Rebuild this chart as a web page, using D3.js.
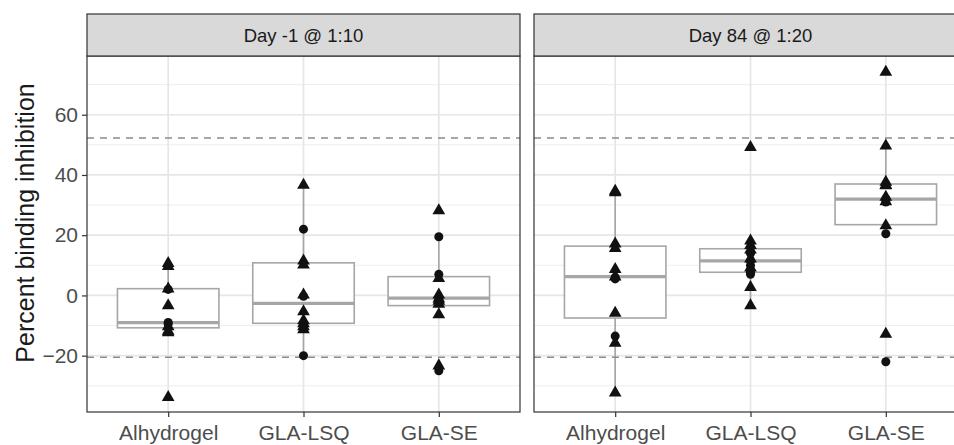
<!DOCTYPE html>
<html>
<head>
<meta charset="utf-8">
<script src="https://cdn.jsdelivr.net/npm/d3@7"></script>
<style>
  body { margin: 0; background: #fff; }
  svg { display: block; font-family: "Liberation Sans", Arial, sans-serif; }
</style>
</head>
<body>
<svg id="chart" width="954" height="445"></svg>
<script>
// categories and facets
const categories = ["Alhydrogel", "GLA-LSQ", "GLA-SE"];
const facets = ["Day -1 @ 1:10", "Day 84 @ 1:20"];

// values per category (triangles / circles), one array per facet
const day1Triangles = [
  [11, 10, 2.5, -3, -10, -11.5, -12, -33.5],
  [37, 11.8, 10.5, 0.5, -5, -8, -9, -10, -11],
  [28.5, 6, 0.5, -0.8, -1.5, -2.5, -6, -23]
];
const day1Circles = [
  [2, -9, -9.5],
  [22, -0.3, -20],
  [19.5, 7, -1, -25]
];
const day84Triangles = [
  [35, 34.5, 17.5, 16, 9, 6.5, -5.5, -15.5, -32],
  [49.5, 18.5, 17, 15.5, 12.5, 9.5, 3, -3],
  [74.5, 50, 38, 37, 36.8, 33, 31.5, 23.5, -12.5]
];
const day84Circles = [
  [6, 5.5, -13.5],
  [14, 11.5, 10, 7.7, 7],
  [32, 31, 20.5, -22]
];

const cutoffs = [52.3, -20.5];
const yMajor = [-20, 0, 20, 40, 60];
const yMinor = [-30, -10, 10, 30, 50, 70];

const svg = d3.select("#chart");
const panelTop = 56, panelBottom = 412, stripTop = 14;
const panelWidth = 433;
const panelLefts = [87, 534];

const y = d3.scaleLinear().domain([-38.7, 79.5]).range([panelBottom, panelTop]);

// boxplot stats like ggplot (type 7 quantiles, 1.5 IQR whiskers)
function boxStats(values) {
  const s = values.slice().sort(d3.ascending);
  const q1 = d3.quantileSorted(s, 0.25), med = d3.quantileSorted(s, 0.5), q3 = d3.quantileSorted(s, 0.75);
  const iqr = q3 - q1;
  const lo = d3.min(s.filter(v => v >= q1 - 1.5 * iqr));
  const hi = d3.max(s.filter(v => v <= q3 + 1.5 * iqr));
  return { q1, med, q3, lo, hi };
}

const panelData = [
  { tri: day1Triangles, circ: day1Circles },
  { tri: day84Triangles, circ: day84Circles }
];

facets.forEach((facet, fi) => {
  const left = panelLefts[fi];
  const x = d3.scalePoint().domain(categories).range([left, left + panelWidth]).padding(0.6);
  const step = x.step();
  const g = svg.append("g");

  // panel background
  g.append("rect")
    .attr("x", left).attr("y", panelTop)
    .attr("width", panelWidth).attr("height", panelBottom - panelTop)
    .attr("fill", "#fff");

  // minor grid
  g.selectAll(".minor").data(yMinor).join("line")
    .attr("x1", left).attr("x2", left + panelWidth)
    .attr("y1", d => y(d)).attr("y2", d => y(d))
    .attr("stroke", "#ebebeb").attr("stroke-width", 0.9);

  // major grid
  g.selectAll(".major").data(yMajor).join("line")
    .attr("x1", left).attr("x2", left + panelWidth)
    .attr("y1", d => y(d)).attr("y2", d => y(d))
    .attr("stroke", "#e6e6e6").attr("stroke-width", 1.7);
  g.selectAll(".vmajor").data(categories).join("line")
    .attr("x1", d => x(d)).attr("x2", d => x(d))
    .attr("y1", panelTop).attr("y2", panelBottom)
    .attr("stroke", "#e6e6e6").attr("stroke-width", 1.7);

  // boxplots
  categories.forEach((cat, ci) => {
    const vals = panelData[fi].tri[ci].concat(panelData[fi].circ[ci]);
    const st = boxStats(vals);
    const cx = x(cat), bw = step * 0.75;
    const col = "#a6a6a6";
    g.append("line").attr("x1", cx).attr("x2", cx)
      .attr("y1", y(st.q3)).attr("y2", y(st.hi))
      .attr("stroke", col).attr("stroke-width", 1.6);
    g.append("line").attr("x1", cx).attr("x2", cx)
      .attr("y1", y(st.q1)).attr("y2", y(st.lo))
      .attr("stroke", col).attr("stroke-width", 1.6);
    g.append("rect")
      .attr("x", cx - bw / 2).attr("y", y(st.q3))
      .attr("width", bw).attr("height", y(st.q1) - y(st.q3))
      .attr("fill", "#fff").attr("stroke", col).attr("stroke-width", 1.6);
    g.append("line")
      .attr("x1", cx - bw / 2).attr("x2", cx + bw / 2)
      .attr("y1", y(st.med)).attr("y2", y(st.med))
      .attr("stroke", col).attr("stroke-width", 3.2);
  });

  // cutoff lines
  g.selectAll(".cut").data(cutoffs).join("line")
    .attr("x1", left).attr("x2", left + panelWidth)
    .attr("y1", d => y(d)).attr("y2", d => y(d))
    .attr("stroke", "#8c8c8c").attr("stroke-width", 1.5)
    .attr("stroke-dasharray", "7,6");

  // points
  categories.forEach((cat, ci) => {
    g.selectAll(null).data(panelData[fi].circ[ci]).join("path")
      .attr("d", d3.symbol(d3.symbolCircle, 64))
      .attr("transform", d => `translate(${x(cat)},${y(d)})`)
      .attr("fill", "#111");
    g.selectAll(null).data(panelData[fi].tri[ci]).join("path")
      .attr("d", d3.symbol(d3.symbolTriangle, 70))
      .attr("transform", d => `translate(${x(cat)},${y(d) + 1})`)
      .attr("fill", "#111");
  });

  // panel border
  g.append("rect")
    .attr("x", left).attr("y", panelTop)
    .attr("width", panelWidth).attr("height", panelBottom - panelTop)
    .attr("fill", "none").attr("stroke", "#333").attr("stroke-width", 1.2);

  // strip
  g.append("rect")
    .attr("x", left).attr("y", stripTop)
    .attr("width", panelWidth).attr("height", panelTop - stripTop)
    .attr("fill", "#d9d9d9").attr("stroke", "#333").attr("stroke-width", 1.2);
  g.append("text")
    .attr("x", left + panelWidth / 2).attr("y", (stripTop + panelTop) / 2 + 6.5)
    .attr("text-anchor", "middle")
    .attr("font-size", 18.5).attr("fill", "#1a1a1a")
    .text(facet);

  // x axis
  const xAxis = g.append("g")
    .attr("transform", `translate(0,${panelBottom})`)
    .call(d3.axisBottom(x).tickSize(5).tickPadding(8));
  xAxis.select(".domain").remove();
  xAxis.selectAll("line").attr("stroke", "#333").attr("stroke-width", 1.2);
  xAxis.selectAll("text").attr("font-size", 21).attr("fill", "#4d4d4d")
    .attr("font-family", "Liberation Sans, Arial, sans-serif");

  // y axis on first panel
  if (fi === 0) {
    const yAxis = g.append("g")
      .attr("transform", `translate(${left},0)`)
      .call(d3.axisLeft(y).tickValues(yMajor).tickSize(5).tickPadding(4));
    yAxis.select(".domain").remove();
    yAxis.selectAll("line").attr("stroke", "#333").attr("stroke-width", 1.2);
    yAxis.selectAll("text").attr("font-size", 21).attr("fill", "#4d4d4d")
      .attr("font-family", "Liberation Sans, Arial, sans-serif");
  }
});

// y title
svg.append("text")
  .attr("transform", "translate(34,223) rotate(-90)")
  .attr("text-anchor", "middle")
  .attr("font-size", 25).attr("fill", "#1a1a1a")
  .text("Percent binding inhibition");
</script>
</body>
</html>
